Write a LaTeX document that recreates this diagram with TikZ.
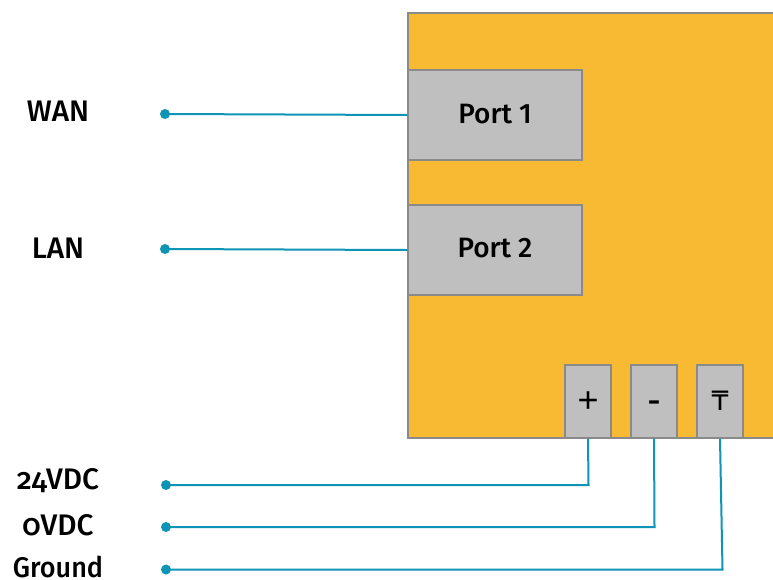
\documentclass[tikz,border=0pt]{standalone}
\usepackage{fontspec}
\newfontfamily\lblfont{Fira Sans Medium}[Numbers=OldStyle]
\newfontfamily\gndfont{Fira Sans Medium}[FakeStretch=0.95]
\newfontfamily\portfont{Fira Sans Medium}[Numbers=Lining]
\newfontfamily\plusfont{Liberation Sans}
\newfontfamily\symfont{DejaVu Sans}
\definecolor{wire}{HTML}{0E94B4}
\definecolor{boxorange}{HTML}{F9BA33}
\definecolor{boxgrey}{HTML}{BFBFBF}
\definecolor{edgegrey}{HTML}{8A8A8A}
\tikzset{
  x=0.75pt,y=-0.75pt,
  device/.style={fill=boxorange,draw=edgegrey,line width=1.1pt},
  portbox/.style={fill=boxgrey,draw=edgegrey,line width=1.1pt,inner sep=0pt},
  termbox/.style={portbox,minimum width=34.5pt,minimum height=54.75pt},
  bigport/.style={portbox,minimum width=130.5pt,minimum height=67.5pt},
  porttext/.style={inner sep=0pt,font=\portfont\fontsize{21}{24}\selectfont},
  lbl/.style={inner sep=0pt,font=\lblfont\fontsize{22.3}{24}\selectfont},
  wireline/.style={draw=wire,line width=1.5pt},
  wiredot/.style={circle,fill=wire,inner sep=0pt,minimum size=7.5pt},
}
\begin{document}
\begin{tikzpicture}
\useasboundingbox (0,0) rectangle (773,579);
\fill[white] (0,0) rectangle (773,579);
\path[device] (408,13) -- (775,13) -- (775,438) -- (408,438) -- cycle;
\node[bigport] (p1) at (495,115) {};
\node[bigport] (p2) at (495,250) {};
\node[porttext] (p1t) at (495,114) {Port 1};
\node[porttext] (p2t) at (495,248) {Port 2};
\node[termbox] (tp) at (588,401.5) {};
\node[termbox] (tm) at (654,401.5) {};
\node[termbox] (tg) at (720,401.5) {};
\node[inner sep=0pt,font=\plusfont\fontsize{27}{30}\selectfont] (tpt) at (588,402) {+};
\node[inner sep=0pt,font=\portfont\fontsize{24}{30}\selectfont] (tmt) at (654,407) {-};
\node[inner sep=0pt,font=\symfont\fontsize{20}{24}\selectfont] (tgt) at (720,401) {₸};
\node[lbl] (wan) at (58,111.5) {WAN};
\node[lbl] (lan) at (58,248.5) {LAN};
\node[lbl] (v24) at (58,480.5) {24VDC};
\node[lbl] (v0) at (58,525.5) {0VDC};
\node[lbl,font=\gndfont\fontsize{21.3}{24}\selectfont] (gnd) at (58,566.5) {Ground};
\node[wiredot] (d1) at (165,114) {};
\node[wiredot] (d2) at (165,249) {};
\node[wiredot] (d3) at (166,485) {};
\node[wiredot] (d4) at (166,527) {};
\node[wiredot] (d5) at (166,569.5) {};
\coordinate (c3) at (588.5,485);
\coordinate (c4) at (654.5,527);
\coordinate (c5) at (722.5,569.5);
\draw[wireline] (d1.center) -- (p1.west);
\draw[wireline] (d2.center) -- (p2.west);
\draw[wireline] (d3.center) -- (c3) -- (tp.south);
\draw[wireline] (d4.center) -- (c4) -- (tm.south);
\draw[wireline] (d5.center) -- (c5) -- (tg.south);
\end{tikzpicture}
\end{document}
